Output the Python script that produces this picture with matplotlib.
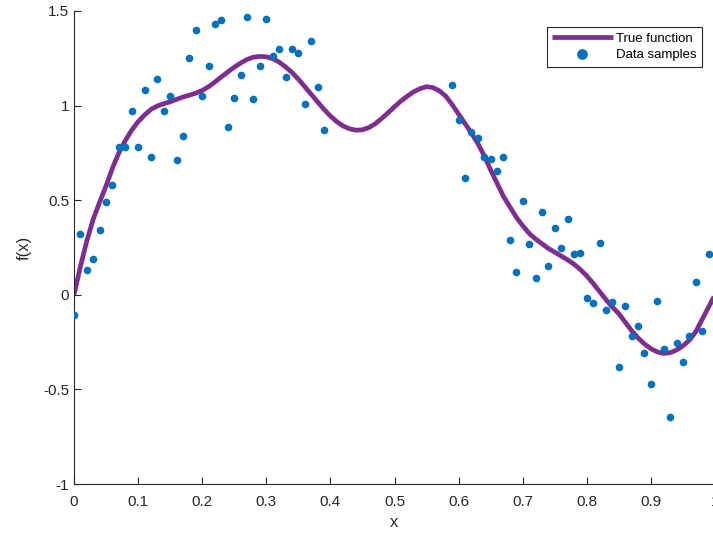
import numpy as np
import matplotlib
matplotlib.use("Agg")
import matplotlib.pyplot as plt

plt.rcParams['font.family'] = ['Liberation Sans', 'DejaVu Sans']

# noisy samples
xLeft = np.round(np.arange(0, 0.40, 0.01), 2)
yLeft = [-0.105, 0.32, 0.13, 0.19, 0.34, 0.49, 0.58, 0.78, 0.78, 0.97,
         0.78, 1.08, 0.73, 1.14, 0.97, 1.05, 0.715, 0.84, 1.25, 1.40,
         1.05, 1.21, 1.43, 1.45, 0.885, 1.04, 1.16, 1.47, 1.035, 1.21,
         1.46, 1.26, 1.30, 1.15, 1.30, 1.28, 1.01, 1.34, 1.10, 0.87]
xRight = np.round(np.arange(0.59, 1.0, 0.01), 2)
yRight = [1.11, 0.925, 0.615, 0.86, 0.83, 0.73, 0.72, 0.655, 0.73, 0.29,
          0.12, 0.495, 0.27, 0.09, 0.44, 0.15, 0.355, 0.245, 0.40, 0.215,
          0.22, -0.015, -0.045, 0.275, -0.08, -0.04, -0.38, -0.06, -0.22, -0.165,
          -0.31, -0.47, -0.035, -0.285, -0.645, -0.255, -0.355, -0.22, 0.07, -0.19,
          0.215]
xSamples = np.concatenate([xLeft, xRight])
ySamples = np.array(yLeft + yRight)

# true function, every 0.01
xTrue = np.round(np.arange(0, 1.001, 0.01), 2)
yTrue = [0.0, 0.15, 0.285, 0.40, 0.49, 0.575, 0.67, 0.75, 0.815, 0.87,
         0.915, 0.95, 0.98, 0.998, 1.01, 1.02, 1.033, 1.045, 1.055, 1.066,
         1.08, 1.10, 1.125, 1.152, 1.178, 1.203, 1.225, 1.244, 1.256, 1.26,
         1.258, 1.248, 1.23, 1.205, 1.175, 1.14, 1.10, 1.06, 1.02, 0.98,
         0.945, 0.915, 0.892, 0.877, 0.87, 0.872, 0.884, 0.904, 0.932, 0.962,
         0.994, 1.024, 1.05, 1.073, 1.09, 1.10, 1.095, 1.078, 1.05, 1.005,
         0.955, 0.905, 0.855, 0.80, 0.735, 0.66, 0.59, 0.52, 0.465, 0.41,
         0.365, 0.325, 0.295, 0.27, 0.245, 0.225, 0.205, 0.185, 0.162, 0.133,
         0.10, 0.06, 0.017, -0.026, -0.065, -0.10, -0.145, -0.19, -0.228, -0.26,
         -0.285, -0.302, -0.31, -0.306, -0.292, -0.27, -0.24, -0.195, -0.13, -0.065,
         0.0]

fig = plt.figure(figsize=(7.13, 5.38), dpi=100)
ax = fig.add_axes([74/713, 54/538, 641/713, 473/538])

ax.plot(xTrue, yTrue, color='#7E2F8E', linewidth=3.4, solid_joinstyle='round',
        solid_capstyle='butt', label='True function', zorder=2)
ax.plot(xSamples, ySamples, 'o', color='#0072BD', markersize=5.5,
        markeredgewidth=0, label='Data samples', zorder=3)

ax.set_xlim(0, 1)
ax.set_ylim(-1, 1.5)
ax.set_xticks(np.round(np.arange(0, 1.01, 0.1), 1))
ax.set_xticklabels(['0', '0.1', '0.2', '0.3', '0.4', '0.5', '0.6', '0.7', '0.8', '0.9', '1'])
ax.set_yticks([-1, -0.5, 0, 0.5, 1, 1.5])
ax.set_yticklabels(['-1', '-0.5', '0', '0.5', '1', '1.5'])
ax.tick_params(direction='in', length=5, width=0.8, colors='#262626', labelsize=11)
ax.tick_params(axis='x', pad=8)
for s in ['top', 'right']:
    ax.spines[s].set_visible(False)
for s in ['left', 'bottom']:
    ax.spines[s].set_color('#262626')
    ax.spines[s].set_linewidth(0.8)
ax.set_xlabel('x', fontsize=12, color='#262626', labelpad=4)
ax.set_ylabel('f(x)', fontsize=12, color='#262626', labelpad=8)

leg = ax.legend(loc='upper right', bbox_to_anchor=(702/713, 1 - 27/538),
                bbox_transform=fig.transFigure, borderaxespad=0, fontsize=9.5,
                fancybox=False, framealpha=1, edgecolor='#262626',
                handlelength=4.6, handletextpad=0.25, markerscale=1.4,
                borderpad=0.4, labelspacing=0.35)
leg.get_frame().set_linewidth(0.8)

fig.savefig('out.png', dpi=100)
